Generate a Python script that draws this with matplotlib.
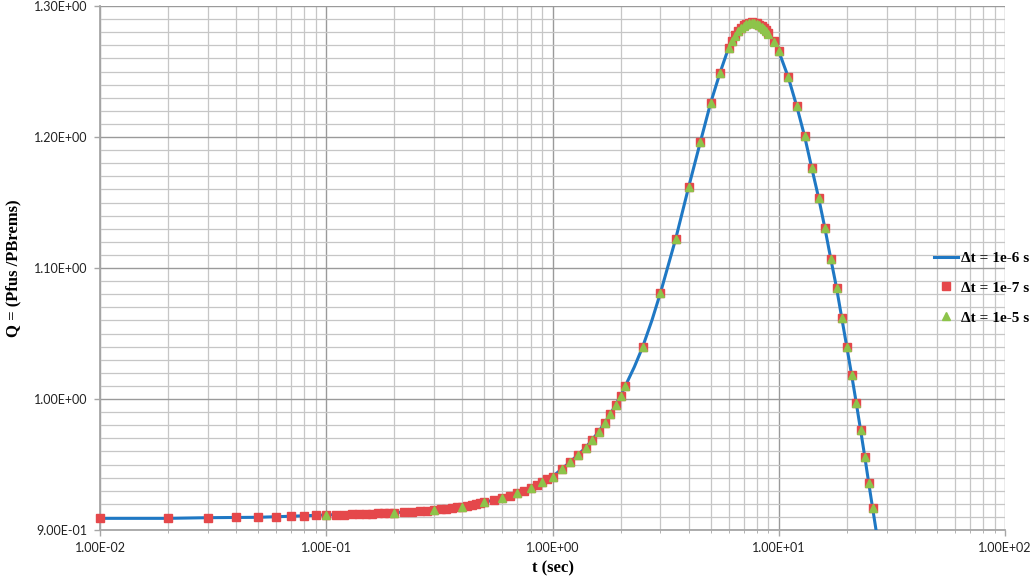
import matplotlib
matplotlib.use("Agg")
import matplotlib.pyplot as plt
from matplotlib.ticker import LogLocator, MultipleLocator, FuncFormatter, NullFormatter

# ---------------- data ----------------
# Δt = 1e-7 s (red squares)
t_sq = [0.01, 0.02, 0.03, 0.04, 0.05, 0.06, 0.07, 0.08, 0.09,
        0.10, 0.11, 0.12, 0.13, 0.14, 0.15, 0.16, 0.17, 0.18, 0.19, 0.20,
        0.22, 0.24, 0.26, 0.28, 0.30, 0.32, 0.34, 0.36, 0.38, 0.40,
        0.42, 0.44, 0.46, 0.48, 0.50, 0.55, 0.60, 0.65, 0.70, 0.75,
        0.80, 0.85, 0.90, 0.95, 1.00,
        1.1, 1.2, 1.3, 1.4, 1.5, 1.6, 1.7, 1.8, 1.9, 2.0, 2.1,
        2.5, 3.0, 3.5, 4.0, 4.5, 5.0, 5.5, 6.0,
        6.2, 6.4, 6.6, 6.8, 7.0, 7.2, 7.4, 7.6, 7.8, 8.0, 8.2, 8.4, 8.6, 8.8, 9.0, 9.5,
        10, 11, 12, 13, 14, 15, 16, 17, 18, 19, 20, 21, 22, 23, 24, 25, 26]
q_sq = [0.9089, 0.9089, 0.9094, 0.9097, 0.9097, 0.9102, 0.9105, 0.9105, 0.9112,
        0.9115, 0.9117, 0.9118, 0.9120, 0.9121, 0.9123, 0.9125, 0.9127, 0.9128, 0.9130, 0.9132,
        0.9136, 0.9140, 0.9144, 0.9148, 0.9153, 0.9158, 0.9163, 0.9168, 0.9173, 0.9178,
        0.9184, 0.9191, 0.9197, 0.9204, 0.9211, 0.9229, 0.9247, 0.9263, 0.9280, 0.9301,
        0.9323, 0.9346, 0.9370, 0.9388, 0.9407,
        0.9463, 0.9521, 0.9573, 0.9628, 0.9687, 0.9750, 0.9814, 0.9883, 0.9954, 1.0023, 1.0101,
        1.0395, 1.0810, 1.1220, 1.1620, 1.1960, 1.2260, 1.2490, 1.2680,
        1.2736, 1.2776, 1.2809, 1.2835, 1.2853, 1.2865, 1.2873, 1.2875, 1.2873, 1.2867,
        1.2858, 1.2846, 1.2830, 1.2814, 1.2793, 1.2731,
        1.2655, 1.2460, 1.2237, 1.2008, 1.1761, 1.1537, 1.1303, 1.1066, 1.0850,
        1.0616, 1.0395, 1.0183, 0.9972, 0.9763, 0.9560, 0.9356, 0.9166]

# Δt = 1e-5 s (green triangles)
t_tri = [0.1, 0.2, 0.3, 0.4, 0.5, 0.6, 0.7, 0.8, 0.9, 1.0,
         1.1, 1.2, 1.3, 1.4, 1.5, 1.6, 1.7, 1.8, 1.9, 2.0, 2.1,
         2.5, 3.0, 3.5, 4.0, 4.5, 5.0, 5.5, 6.0,
         6.2, 6.4, 6.6, 6.8, 7.0, 7.2, 7.4, 7.6, 7.8, 8.0, 8.2, 8.4, 8.6, 8.8, 9.0, 9.5,
         10, 11, 12, 13, 14, 15, 16, 17, 18, 19, 20, 21, 22, 23, 24, 25, 26]
q_tri = [0.9115, 0.9132, 0.9153, 0.9178, 0.9211, 0.9247, 0.9280, 0.9323, 0.9370, 0.9407,
         0.9463, 0.9521, 0.9573, 0.9628, 0.9687, 0.9750, 0.9814, 0.9883, 0.9954, 1.0023, 1.0101,
         1.0395, 1.0810, 1.1220, 1.1620, 1.1960, 1.2260, 1.2490, 1.2680,
         1.2733, 1.2773, 1.2806, 1.2832, 1.2850, 1.2862, 1.2870, 1.2872, 1.2870, 1.2864,
         1.2855, 1.2843, 1.2828, 1.2811, 1.2790, 1.2729,
         1.2655, 1.2460, 1.2237, 1.2008, 1.1761, 1.1537, 1.1303, 1.1066, 1.0850,
         1.0616, 1.0395, 1.0183, 0.9972, 0.9763, 0.9560, 0.9356, 0.9166]

# Δt = 1e-6 s (blue line)
t_line = [0.01, 0.02, 0.03, 0.05, 0.07, 0.1, 0.15, 0.2, 0.3, 0.4, 0.5, 0.6, 0.7, 0.8, 0.9, 1.0,
          1.2, 1.4, 1.6, 1.8, 2.0, 2.1, 2.3, 2.5, 2.75, 3.0, 3.5, 4.0, 4.5, 5.0, 5.5, 6.0,
          6.4, 6.8, 7.2, 7.6, 8.0, 8.5, 9.0, 9.5, 10, 11, 12, 13, 14, 15, 16, 17, 18,
          19, 20, 21, 22, 23, 24, 25, 26, 27]
q_line = [0.9089, 0.9089, 0.9094, 0.9097, 0.9105, 0.9115, 0.9123, 0.9132, 0.9153, 0.9178,
          0.9211, 0.9247, 0.9280, 0.9323, 0.9370, 0.9407,
          0.9521, 0.9628, 0.9750, 0.9883, 1.0023, 1.0101, 1.0245, 1.0395, 1.0600, 1.0810,
          1.1220, 1.1620, 1.1960, 1.2260, 1.2490, 1.2680,
          1.2776, 1.2835, 1.2865, 1.2875, 1.2867, 1.2838, 1.2793, 1.2731, 1.2655,
          1.2460, 1.2237, 1.2008, 1.1761, 1.1537, 1.1303, 1.1066, 1.0850,
          1.0616, 1.0395, 1.0183, 0.9972, 0.9763, 0.9560, 0.9356, 0.9166, 0.8985]

label_line = "\u0394t = 1e-6 s"
label_sq = "\u0394t = 1e-7 s"
label_tri = "\u0394t = 1e-5 s"
x_label = "t (sec)"
y_label = "Q = (Pfus /PBrems)"

# ---------------- figure ----------------
W, H = 1031, 581
fig = plt.figure(figsize=(W / 100, H / 100), dpi=100)
ax = fig.add_axes([100 / W, 1 - 530 / H, (1005 - 100) / W, (530 - 6) / H])

blue = "#1f78c4"
red = "#e5484b"
green = "#8dc44a"

ln, = ax.plot(t_line, q_line, color=blue, lw=2.2, zorder=3, label=label_line)
sq, = ax.plot(t_sq, q_sq, ls="none", marker="s", ms=6.2, mfc=red, mec=red,
              zorder=4, clip_on=False, label=label_sq)
tri, = ax.plot(t_tri, q_tri, ls="none", marker="^", ms=6.4, mfc=green, mec=green,
               zorder=5, clip_on=False, label=label_tri)

ax.set_xscale("log")
ax.set_xlim(0.01, 100)
ax.set_ylim(0.90, 1.30)

ax.xaxis.set_major_locator(LogLocator(base=10, numticks=10))
ax.xaxis.set_minor_locator(LogLocator(base=10, subs=range(2, 10), numticks=20))
ax.xaxis.set_minor_formatter(NullFormatter())
ax.xaxis.set_major_formatter(FuncFormatter(lambda v, p: "%.2E" % v))
ax.yaxis.set_major_locator(MultipleLocator(0.1))
ax.yaxis.set_minor_locator(MultipleLocator(0.01))
ax.yaxis.set_major_formatter(FuncFormatter(lambda v, p: "%.2E" % v))

ax.grid(True, which="major", color="#9a9a9a", lw=1.0)
ax.grid(True, which="minor", color="#c6c6c6", lw=0.9)
ax.set_axisbelow(True)

for s in ["top", "right"]:
    ax.spines[s].set_visible(False)
for s in ["left", "bottom"]:
    ax.spines[s].set_color("#a6a6a6")
    ax.spines[s].set_linewidth(1.3)

ax.tick_params(axis="both", which="major", length=4, width=1, color="#a6a6a6",
               labelsize=9, labelcolor="#222222", labelfontfamily="Lato")
ax.tick_params(axis="x", which="major", pad=5)
ax.tick_params(axis="y", which="major", pad=5)
ax.tick_params(axis="y", which="minor", length=0)
ax.tick_params(axis="x", which="minor", length=2, color="#a6a6a6")

fig.text(553 / W, 1 - 568 / H, x_label, ha="center", va="center",
         fontsize=12, fontweight="bold", family="Liberation Serif")
fig.text(13 / W, 1 - 268 / H, y_label, ha="center", va="center", rotation=90,
         fontsize=12, fontweight="bold", family="Liberation Serif")

fig.legend(handles=[ln, sq, tri], loc="center left",
           bbox_to_anchor=(926 / W, 1 - 288 / H), frameon=False,
           prop=dict(family="Liberation Serif", weight="bold", size=11),
           handlelength=1.6, handletextpad=0.2, labelspacing=1.05, borderpad=0)

fig.savefig("out.png", dpi=100)
